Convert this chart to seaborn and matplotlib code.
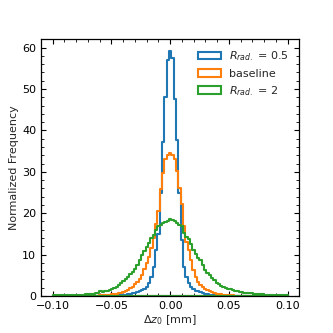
import numpy as np
import pandas as pd
import matplotlib
matplotlib.use("Agg")
import matplotlib.pyplot as plt
import seaborn as sns
from matplotlib.ticker import MultipleLocator

# ---- data (bin heights, 101 bins over [-0.1, 0.1]) ----
bin_range = (-0.1, 0.1)
n_bins = 101

r05 = [0.01, 0.01, 0.01, 0.01, 0.01, 0.01, 0.01, 0.01, 0.02, 0.02,
       0.02, 0.02, 0.02, 0.03, 0.03, 0.03, 0.03, 0.04, 0.04, 0.04,
       0.05, 0.06, 0.07, 0.08, 0.09, 0.11, 0.13, 0.16, 0.19, 0.23,
       0.28, 0.34, 0.42, 0.52, 0.65, 0.8, 1.0, 1.2, 1.45, 1.8,
       2.3, 3.1, 4.6, 7.0, 11.0, 15.0, 25.0, 37.3, 48.0, 57.0,
       59.2,
       57.5, 47.5, 37.7, 25.0, 13.5, 7.0, 4.7, 3.1, 2.1, 1.6,
       1.3, 1.1, 0.9, 0.72, 0.58, 0.46, 0.37, 0.3, 0.24, 0.19,
       0.15, 0.12, 0.1, 0.08, 0.07, 0.06, 0.05, 0.04, 0.04, 0.03,
       0.03, 0.03, 0.03, 0.02, 0.02, 0.02, 0.02, 0.02, 0.02, 0.02,
       0.01, 0.01, 0.01, 0.01, 0.01, 0.01, 0.01, 0.01, 0.01, 0.01]

baseline = [0.01, 0.01, 0.01, 0.01, 0.01, 0.02, 0.02, 0.02, 0.02, 0.02,
            0.03, 0.03, 0.04, 0.04, 0.05, 0.06, 0.07, 0.08, 0.1, 0.12,
            0.14, 0.17, 0.21, 0.26, 0.31, 0.38, 0.46, 0.56, 0.68, 0.82,
            1.0, 1.25, 1.55, 1.9, 2.3, 2.8, 3.4, 4.2, 5.2, 6.5,
            8.0, 9.5, 11.5, 14.0, 17.5, 20.5, 25.8, 29.8, 33.0, 34.1,
            34.5,
            34.1, 33.0, 30.2, 26.2, 22.2, 17.0, 13.0, 11.0, 8.6, 6.2,
            4.5, 3.5, 2.7, 2.1, 1.7, 1.35, 1.1, 0.9, 0.75, 0.6,
            0.5, 0.4, 0.32, 0.25, 0.2, 0.16, 0.13, 0.1, 0.08, 0.07,
            0.06, 0.05, 0.04, 0.04, 0.03, 0.03, 0.03, 0.02, 0.02, 0.02,
            0.01, 0.01, 0.01, 0.01, 0.01, 0.01, 0.01, 0.01, 0.01, 0.01]

r2 = [0.15, 0.15, 0.16, 0.17, 0.18, 0.19, 0.2, 0.22, 0.24, 0.26,
      0.28, 0.3, 0.32, 0.35, 0.4, 0.45, 0.5, 0.55, 0.65, 0.7,
      1.1, 1.05, 1.15, 1.3, 1.5, 1.7, 2.0, 2.3, 2.7, 3.1,
      3.6, 4.1, 4.7, 5.3, 5.9, 6.6, 7.6, 8.7, 9.8, 10.8,
      11.8, 12.8, 14.0, 14.8, 16.0, 16.8, 17.2, 17.6, 17.9, 18.2,
      18.6,
      18.4, 18.0, 17.6, 17.2, 16.8, 15.3, 14.3, 13.7, 12.5, 11.2,
      10.2, 9.3, 8.6, 7.4, 6.3, 5.6, 5.0, 4.4, 3.8, 3.2,
      2.8, 2.5, 2.3, 2.0, 1.8, 1.6, 1.45, 1.3, 1.15, 1.0,
      0.95, 0.85, 0.75, 0.68, 0.62, 0.56, 0.5, 0.46, 0.42, 0.38,
      0.36, 0.34, 0.32, 0.3, 0.29, 0.27, 0.25, 0.23, 0.21, 0.2]

labels = [r"$R_{rad.}$ = 0.5", "baseline", r"$R_{rad.}$ = 2"]
colors = ["#1f77b4", "#ff7f0e", "#2ca02c"]
xticks = [-0.10, -0.05, 0.00, 0.05, 0.10]
yticks = [0, 10, 20, 30, 40, 50, 60]

# ---- style ----
sns.set_style("ticks")
plt.rcParams.update({
    "font.family": ["DejaVu Sans"],
    "font.size": 8,
    "axes.labelsize": 8,
    "xtick.labelsize": 8,
    "ytick.labelsize": 8,
    "legend.fontsize": 8,
    "axes.edgecolor": "black",
    "axes.linewidth": 0.9,
    "xtick.color": "black",
    "ytick.color": "black",
})

edges = np.linspace(bin_range[0], bin_range[1], n_bins + 1)
centers = 0.5 * (edges[:-1] + edges[1:])

fig = plt.figure(figsize=(3.33, 3.33), dpi=100)
ax = fig.add_axes([0.123, 0.111, 0.776, 0.771])

for vals, lab, col in zip([r05, baseline, r2], labels, colors):
    df = pd.DataFrame({"x": centers, "w": vals})
    sns.histplot(data=df, x="x", weights="w", bins=edges.tolist(),
                 element="step", fill=True, color=col, facecolor="none",
                 edgecolor=col, linewidth=1.5, label=lab, ax=ax)

ax.set_xlim(-0.11, 0.11)
ax.set_ylim(0, 62)
ax.set_xticks(xticks)
ax.set_yticks(yticks)
ax.xaxis.set_minor_locator(MultipleLocator(0.01))
ax.yaxis.set_minor_locator(MultipleLocator(2))
ax.tick_params(which="both", direction="in", top=True, right=True)
ax.tick_params(which="major", length=3.5, width=0.8)
ax.tick_params(which="minor", length=2, width=0.6)
ax.set_xlabel(r"$\Delta z_0$ [mm]", labelpad=2)
ax.set_ylabel("Normalized Frequency", labelpad=2)
ax.legend(loc="upper right", frameon=False, handlelength=2.0)

fig.savefig("out.png", dpi=100)
